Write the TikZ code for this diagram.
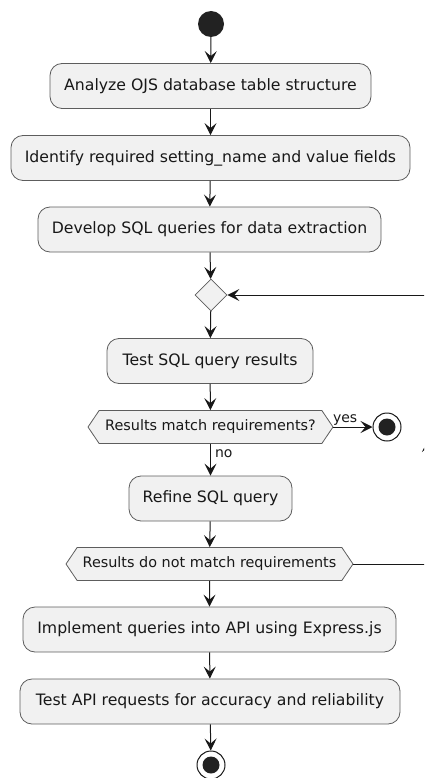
\documentclass[tikz,border=0pt]{standalone}
\usepackage{fontspec}
\setmainfont{DejaVu Sans}
\usetikzlibrary{shapes.geometric,shapes.symbols,arrows.meta}
\definecolor{boxfill}{HTML}{F1F1F1}
\definecolor{edge}{HTML}{181818}
\definecolor{dark}{HTML}{222222}
\tikzset{
  act/.style={draw=edge!70, line width=0.8pt, fill=boxfill, rounded corners=12pt,
    minimum height=45pt, inner sep=0pt, font=\fontsize{15.7}{18}\selectfont, text=edge},
  hexa/.style={draw=edge!70, line width=0.8pt, fill=boxfill, shape=signal,
    signal to=west and east, signal pointer angle=112, minimum height=33pt,
    inner sep=0pt, font=\fontsize{14.4}{16}\selectfont, text=edge},
  conn/.style={draw=edge, line width=1pt, -{Stealth[length=12pt,width=12pt,inset=5pt]}},
  plain/.style={draw=edge, line width=1pt},
  lbl/.style={font=\fontsize{14}{16}\selectfont, text=edge, inner sep=0pt},
  startdot/.style={circle, fill=dark, minimum size=26pt, inner sep=0pt},
  stopring/.style={circle, draw=edge, line width=1pt, fill=white, minimum size=28pt, inner sep=0pt},
  mergebox/.style={diamond, draw=edge!70, line width=0.8pt, fill=boxfill, minimum size=32pt, inner sep=0pt}
}
\begin{document}
\begin{tikzpicture}[x=1pt,y=-1pt]
\useasboundingbox (0,0) rectangle (424,778);
\clip (0,0) rectangle (424,778);
\node[startdot] (start) at (211,24) {};
\node[act, minimum width=321pt] (a1) at (210.5,86) {Analyze OJS database table structure};
\node[act, minimum width=399pt] (a2) at (210.5,158) {Identify required setting\_name and value fields};
\node[act, minimum width=343pt] (a3) at (209.5,229.5) {Develop SQL queries for data extraction};
\node[mergebox] (merge) at (211,295) {};
\node[act, minimum width=206pt] (a4) at (210,361) {Test SQL query results};
\node[hexa, minimum width=245pt] (h1) at (210.5,427) {Results match requirements?};
\node[stopring] (s1) at (387,427) {};
\fill[dark] (s1) circle (8.5);
\node[act, minimum width=163pt] (a5) at (210.5,498.5) {Refine SQL query};
\node[hexa, minimum width=287pt] (h2) at (209.5,564) {Results do not match requirements};
\node[act, minimum width=373pt] (a6) at (209.5,629.5) {Implement queries into API using Express.js};
\node[act, minimum width=380pt] (a7) at (210,701.5) {Test API requests for accuracy and reliability};
\node[stopring] (s2) at (211,765) {};
\fill[dark] (s2) circle (8.5);
\coordinate (lr) at (428,564);
\coordinate (mid) at (428,440);
\coordinate (ur) at (428,295);

\draw[conn] (start) -- (a1);
\draw[conn] (a1) -- (a2);
\draw[conn] (a2) -- (a3);
\draw[conn] (a3) -- (merge);
\draw[conn] (merge) -- (a4);
\draw[conn] (a4) -- (h1);
\draw[conn] (h1.east) -- node[lbl, above=1pt, pos=0.3] {yes} (s1);
\draw[conn] (h1.south) -- node[lbl, right=4pt, pos=0.3] {no} (a5);
\draw[conn] (a5) -- (h2);
\draw[conn] (h2) -- (a6);
\draw[conn] (a6) -- (a7);
\draw[conn] (a7) -- (s2);
\draw[plain] (h2.east) -- (lr);
\draw[conn] (lr) -- (mid);
\draw[plain] (mid) -- (ur);
\draw[conn] (ur) -- (merge.east);
\end{tikzpicture}
\end{document}
